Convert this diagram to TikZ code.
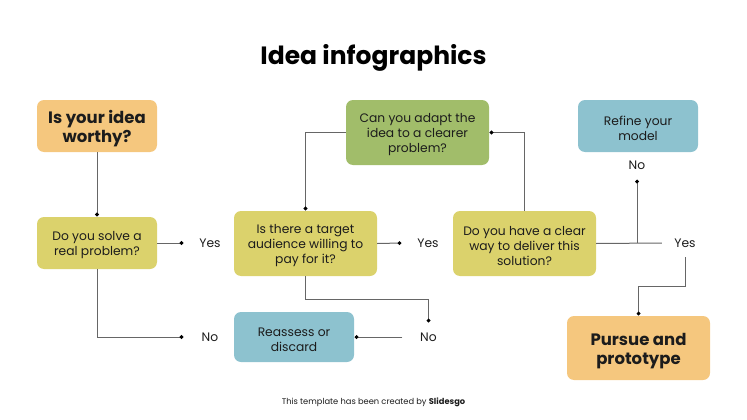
\documentclass[tikz,border=0pt]{standalone}
\usepackage{fontspec}
\setmainfont{Poppins}
\usetikzlibrary{arrows.meta}
\definecolor{peach}{HTML}{F5C77E}
\definecolor{straw}{HTML}{DBD26C}
\definecolor{moss}{HTML}{A1BD6A}
\definecolor{lake}{HTML}{8DC2CF}
\definecolor{ink}{HTML}{1C1C1C}
\definecolor{wire}{HTML}{666666}
\newcommand{\topgap}{\mbox{}\\[-0.08\baselineskip]}
\tikzset{
	card/.style={rounded corners=7pt, align=center, text=ink, inner sep=0pt, font=\fontsize{12.3}{14.9}\selectfont},
	bigcard/.style={card, font=\fontsize{16.5}{19.6}\selectfont\bfseries},
	lbl/.style={minimum width=52pt, minimum height=28pt, inner sep=0pt, text=ink, font=\fontsize{12.3}{14}\selectfont},
	wiredot/.style={draw=wire, line width=1pt, -{Circle[length=3.6pt,width=3.6pt,color=black]}, shorten >=0.5pt},
	wireend/.style={draw=wire, line width=1pt},
}
\begin{document}
\begin{tikzpicture}[x=1pt,y=-1pt]
	\useasboundingbox (0,0) rectangle (747,420);
	%%%%% START %%%%%
	\node[font=\fontsize{25}{28}\selectfont\bfseries, text=black] (title) at (373.5,57.5) {Idea infographics};

	\node[bigcard, fill=peach, minimum width=120pt, minimum height=52pt] (worthy) at (97,126) {\topgap Is your idea\\worthy?};
	\node[card, fill=straw, minimum width=120pt, minimum height=52pt] (solve) at (97,243) {\topgap Do you solve a\\real problem?};
	\node[card, fill=straw, minimum width=143pt, minimum height=65pt] (target) at (305.5,243.5) {\topgap Is there a target\\audience willing to\\pay for it?};
	\node[card, fill=lake, minimum width=120pt, minimum height=50pt] (reassess) at (294,337) {\topgap Reassess or\\discard};
	\node[card, fill=moss, minimum width=143pt, minimum height=65pt] (adapt) at (417.5,132.5) {\topgap Can you adapt the\\idea to a clearer\\problem?};
	\node[card, fill=straw, minimum width=143pt, minimum height=65pt] (deliver) at (524.5,243.5) {\topgap Do you have a clear\\way to deliver this\\solution?};
	\node[card, fill=lake, minimum width=120pt, minimum height=52pt] (refine) at (638,126) {\topgap Refine your\\model};
	\node[bigcard, fill=peach, minimum width=143pt, minimum height=64pt] (pursue) at (638.5,348) {\topgap Pursue and\\prototype};

	\node[lbl] (yesa) at (210,243) {Yes};
	\node[lbl] (noa) at (210,337) {No};
	\node[lbl] (yesb) at (428,243) {Yes};
	\node[lbl] (nob) at (428.5,337) {No};
	\node[lbl] (noc) at (637,165) {No};
	\node[lbl, minimum width=46pt] (yesc) at (685,243) {Yes};
	\coordinate (fork) at (637,243);

	\draw[wiredot] (worthy.south) -- (solve.north);
	\draw[wiredot] (solve.east) -- (yesa.west);
	\draw[wiredot] (solve.south) |- (noa.west);
	\draw[wiredot] (adapt.west) -| (target.north);
	\draw[wiredot] (target.east) -- (yesb.west);
	\draw[wiredot] (target.south) -- ++(0,23) -| (nob.north);
	\draw[wiredot] (nob.west) -- (reassess.east);
	\draw[wiredot] (deliver.north) |- (adapt.east);
	\draw[wireend] (deliver.east) -- (yesc.west);
	\draw[wiredot] (fork) -- (noc.south);
	\draw[wiredot] (yesc.south) -- ++(0,29) -| (pursue.north);

	\node[font=\fontsize{8.3}{10}\selectfont, text=ink] (credit) at (373.5,402) {This template has been created by \textbf{Slidesgo}};
	%%%%% END %%%%%
\end{tikzpicture}
\end{document}
